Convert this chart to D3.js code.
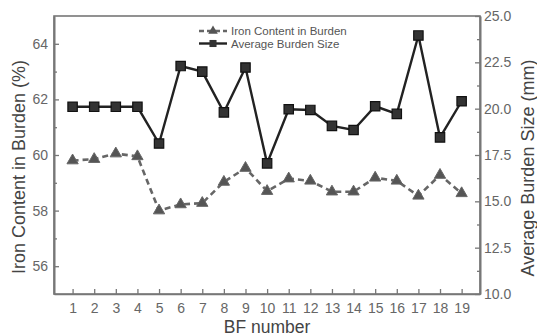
<!DOCTYPE html>
<html><head><meta charset="utf-8">
<script src="https://cdn.jsdelivr.net/npm/d3@7"></script>
<style>body{margin:0;background:#fff}svg{display:block;font-family:"Liberation Sans",Arial,sans-serif}</style>
</head><body><svg id="c" width="537" height="336"></svg>
<script>
const bfNumbers = [1,2,3,4,5,6,7,8,9,10,11,12,13,14,15,16,17,18,19];
const ironContent = [59.8,59.85,60.05,59.95,58.0,58.22,58.27,59.03,59.53,58.7,59.15,59.07,58.68,58.68,59.18,59.07,58.53,59.28,58.62];
const burdenSize = [20.1,20.1,20.1,20.1,18.12,22.3,22.0,19.8,22.22,17.05,19.97,19.93,19.07,18.85,20.13,19.72,23.95,18.45,20.4];
const leftTicks = [56,58,60,62,64];
const rightTicks = [10,12.5,15,17.5,20,22.5,25];
const seriesNames = ["Iron Content in Burden","Average Burden Size"];

const svg = d3.select("#c");
const L=54, R=480, T=16, B=294;
const x = d3.scaleLinear().domain([0.14,19.85]).range([L,R]);
const yL = d3.scaleLinear().domain([55,65]).range([B,T]);
const yR = d3.scaleLinear().domain([10,25]).range([B,T]);
const axisCol="#777", labCol="#666", titleCol="#444";

// frame
svg.append("rect").attr("x",L).attr("y",T).attr("width",R-L).attr("height",B-T)
  .attr("fill","none").attr("stroke",axisCol).attr("stroke-width",1.6);

// x axis
svg.append("g").attr("transform",`translate(0,${B})`)
  .call(d3.axisBottom(x).tickValues(bfNumbers).tickFormat(d3.format("d")).tickSizeInner(-5).tickSizeOuter(0).tickPadding(9));
// left axis
svg.append("g").attr("transform",`translate(${L},0)`)
  .call(d3.axisLeft(yL).tickValues(leftTicks).tickSizeInner(-5).tickSizeOuter(0).tickPadding(6));
svg.append("g").attr("transform",`translate(${L},0)`)
  .call(d3.axisLeft(yL).tickValues([57,59,61,63]).tickSizeInner(-3).tickSizeOuter(0).tickFormat(""));
// right axis
svg.append("g").attr("transform",`translate(${R},0)`)
  .call(d3.axisRight(yR).tickValues(rightTicks).tickFormat(d3.format(".1f")).tickSizeInner(-5).tickSizeOuter(0).tickPadding(4));
svg.append("g").attr("transform",`translate(${R},0)`)
  .call(d3.axisRight(yR).tickValues([11.25,13.75,16.25,18.75,21.25,23.75]).tickSizeInner(-3).tickSizeOuter(0).tickFormat(""));
svg.selectAll(".domain").attr("stroke",axisCol).attr("stroke-width",1.6);
svg.selectAll(".tick line").attr("stroke",axisCol).attr("stroke-width",1.3);
svg.selectAll(".tick text").attr("fill",labCol).style("font-size","14px");

// titles
svg.append("text").attr("x",267).attr("y",333).attr("text-anchor","middle")
  .attr("fill",titleCol).style("font-size","17.5px").text("BF number");
svg.append("text").attr("transform",`translate(25,167) rotate(-90)`).attr("text-anchor","middle")
  .attr("fill",titleCol).style("font-size","18px").text("Iron Content in Burden (%)");
svg.append("text").attr("transform",`translate(534,168) rotate(-90)`).attr("text-anchor","middle")
  .attr("fill",titleCol).style("font-size","18px").text("Average Burden Size (mm)");

// lines
const ironCol="#666", sizeCol="#222";
const lineL = d3.line().x((d,i)=>x(bfNumbers[i])).y(d=>yL(d));
const lineR = d3.line().x((d,i)=>x(bfNumbers[i])).y(d=>yR(d));
svg.append("path").datum(ironContent).attr("d",lineL).attr("fill","none")
  .attr("stroke",ironCol).attr("stroke-width",2.6).attr("stroke-dasharray","6,4");
svg.append("path").datum(burdenSize).attr("d",lineR).attr("fill","none")
  .attr("stroke",sizeCol).attr("stroke-width",2.4);

const tri = d3.symbol().type(d3.symbolTriangle).size(55);
const sq = d3.symbol().type(d3.symbolSquare).size(88);
svg.append("g").selectAll("path").data(ironContent).join("path")
  .attr("transform",(d,i)=>`translate(${x(bfNumbers[i])},${yL(d)})`).attr("d",tri)
  .attr("fill","#555").attr("stroke","#666").attr("stroke-width",1);
svg.append("g").selectAll("path").data(burdenSize).join("path")
  .attr("transform",(d,i)=>`translate(${x(bfNumbers[i])},${yR(d)})`).attr("d",sq)
  .attr("fill","#333").attr("stroke","#111").attr("stroke-width",1.2);

// legend
const lg = svg.append("g");
const ly=[31,43.5];
lg.append("line").attr("x1",199).attr("x2",227).attr("y1",ly[0]).attr("y2",ly[0])
  .attr("stroke",ironCol).attr("stroke-width",2.4).attr("stroke-dasharray","5,3");
lg.append("path").attr("transform",`translate(213,${ly[0]})`).attr("d",d3.symbol().type(d3.symbolTriangle).size(40)).attr("fill","#555");
lg.append("line").attr("x1",199).attr("x2",227).attr("y1",ly[1]).attr("y2",ly[1])
  .attr("stroke",sizeCol).attr("stroke-width",2.4);
lg.append("path").attr("transform",`translate(213,${ly[1]})`).attr("d",d3.symbol().type(d3.symbolSquare).size(50)).attr("fill","#333");
seriesNames.forEach((n,i)=>lg.append("text").attr("x",231).attr("y",ly[i]+4)
  .attr("fill","#555").style("font-size","11.5px").text(n));
</script></body></html>
